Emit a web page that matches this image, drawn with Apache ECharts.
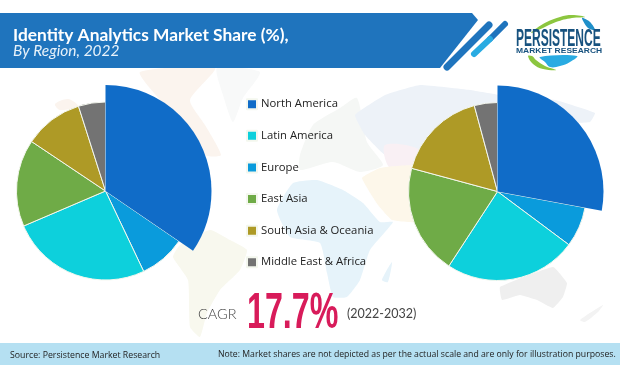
<!DOCTYPE html>
<html><head><meta charset="utf-8">
<style>html,body{margin:0;padding:0;background:#fff}#c{width:620px;height:365px}</style>
<script src="https://cdn.jsdelivr.net/npm/echarts@6/dist/echarts.min.js"></script>
</head><body><div id="c"></div>
<script>
const sliceOrder = ['North America','Europe','Latin America','East Asia','South Asia & Oceania','Middle East & Africa'];
const legendOrder = ['North America','Latin America','Europe','East Asia','South Asia & Oceania','Middle East & Africa'];
const sliceColors = ['#106cc8','#0a9bdc','#0dd0dc','#6fab47','#ae9a26','#737373'];
const values2022 = [34.5,8.4,25.6,15.8,10.7,4.9];
const values2032 = [27.9,7.3,24.0,20.0,16.6,4.2];

function poly(points,fill,smooth){
  return {type:'polygon',z:0,silent:true,shape:{points,smooth:smooth||0},style:{fill}};
}
function txt(x,y,text,font,fill,extra){
  return Object.assign({type:'text',z:5,silent:true,x,y,style:{text,font,fill,textVerticalAlign:'middle'}},extra||{});
}
const mapShapes = [
  poly([[140,72],[215,68],[190,100],[205,125],[221,155],[205,155],[160,100]],'#fbf4ee',0.2),
  poly([[55,104],[68,99],[78,106],[60,110]],'#fbf4ee',0.3),
  poly([[217,68],[260,72],[243,98],[233,122],[223,95]],'#f8f9f9',0.2),
  poly([[300,155],[313,125],[340,108],[357,98],[367,142],[383,165],[360,172],[333,162],[300,170]],'#f5f7f5',0.2),
  poly([[355,115],[385,95],[420,85],[470,90],[500,95],[555,100],[595,113],[590,122],[560,125],[540,170],[450,180],[385,155],[365,135]],'#edf2f8',0.1),
  poly([[385,145],[420,150],[420,172],[390,168]],'#f9f0f4',0.3),
  poly([[362,178],[380,168],[415,166],[425,222],[392,220],[378,205]],'#fdf7ea',0.1),
  poly([[277,210],[293,183],[317,180],[343,190],[363,203],[380,222],[393,222],[370,250],[360,280],[347,297],[333,297],[327,273],[320,243],[290,237]],'#e6f3fa',0.15),
  poly([[382,280],[392,262],[388,282]],'#e6f3fa',0.2),
  poly([[180,245],[210,230],[230,240],[247,250],[240,270],[220,290],[207,313],[200,337],[190,327],[188,280],[173,257]],'#f8f8ee',0.15),
  poly([[500,287],[553,267],[567,283],[563,297],[553,308],[537,300],[520,295],[502,300]],'#efefef',0.1),
  poly([[580,320],[603,305],[598,312],[585,322]],'#f3f3f3',0.2)
];
const banner = [
  {type:'polygon',z:3,silent:true,shape:{points:[[0,13],[472,13],[478,20],[440,68],[0,68]]},style:{fill:'#1f74bd'}},
  {type:'line',z:3,silent:true,shape:{x1:489,y1:25,x2:447,y2:67},style:{stroke:'#1f74bd',lineWidth:7,lineCap:'round'}},
  {type:'line',z:3,silent:true,shape:{x1:505,y1:24,x2:490,y2:39},style:{stroke:'#1f74bd',lineWidth:6,lineCap:'round'}},
  {type:'line',z:3,silent:true,shape:{x1:490,y1:39,x2:474,y2:54},style:{stroke:'#29abe2',lineWidth:6,lineCap:'round'}},
  txt(13,36,'Identity Analytics Market Share (%),','bold 17px "Lato"','#ffffff',{scaleX:1.02}),
  txt(13,51,'By Region, 2022','italic 15.5px "Lato"','#e8f2fa')
];
const logo = [
  poly([[531,33],[543,24],[560,17],[572,15],[585,17],[572,18],[556,22],[543,28]],'#8cc63f',0.4),
  poly([[582,18],[590,22],[595,30],[588,28]],'#1f8fc9',0.3),
  poly([[528,56],[533,64],[543,69],[556,70],[545,66],[536,60],[532,56]],'#8cc63f',0.4),
  poly([[540,57],[577,56],[570,62],[560,66],[550,67],[545,62]],'#29abe2',0.4),
  txt(516,39,'PERSISTENCE','bold 24px "Liberation Sans"','#17527f',{scaleX:0.5}),
  txt(516,51,'MARKET RESEARCH','bold 7.5px "Liberation Sans"','#17527f',{scaleX:1.13})
];
const cagr = [
  txt(198,314,'CAGR','300 14.5px "Lato"','#444444'),
  txt(247,314,'17.7%','bold 50px "Liberation Sans"','#d81b5a',{scaleX:0.645}),
  txt(347,314,'(2022-2032)','400 12.5px "Lato"','#444444')
];
const footer = [
  {type:'rect',z:3,silent:true,shape:{x:0,y:343,width:620,height:22},style:{fill:'#b5e0f2'}},
  txt(10,355,'Source: Persistence Market Research','9.5px "Open Sans"','#222222',{scaleX:0.92}),
  txt(218,354,'Note: Market shares are not depicted as per the actual scale and are only for illustration purposes.','9.5px "Open Sans"','#222222',{scaleX:0.915})
];

function basePie(cx,cy,values){
  return {type:'pie',center:[cx,cy],radius:[0,89],startAngle:90,clockwise:true,silent:true,
    label:{show:false},labelLine:{show:false},emphasis:{disabled:true},animation:false,
    itemStyle:{borderColor:'#f4f7ee',borderWidth:1},
    data:sliceOrder.map((n,i)=>({name:n,value:values[i],itemStyle:{color:sliceColors[i]}}))};
}
function leadPie(cx,cy,values){
  return {type:'pie',center:[cx,cy],radius:[0,106],startAngle:90,clockwise:true,silent:true,
    label:{show:false},labelLine:{show:false},emphasis:{disabled:true},animation:false,
    data:sliceOrder.map((n,i)=>({name:n,value:values[i],
      itemStyle:i===0?{color:sliceColors[0]}:{color:'rgba(0,0,0,0)'}}))};
}
const chart = echarts.init(document.getElementById('c'),null,{renderer:'canvas'});
chart.setOption({
  backgroundColor:'#ffffff',animation:false,
  color:sliceColors,
  legend:{orient:'vertical',left:246,top:97,padding:0,itemWidth:10,itemHeight:10,itemGap:17.1,selectedMode:false,
    icon:'rect',data:legendOrder,textStyle:{fontFamily:'Open Sans',fontSize:11.3,color:'#222222',lineHeight:14.5,padding:[0,0,0,-1]}},
  series:[basePie(105.5,191,values2022),leadPie(105.5,191,values2022),
          basePie(497.5,191.5,values2032),leadPie(497.5,191.5,values2032)],
  graphic:{elements:[...mapShapes,...banner,...logo,...cagr,...footer]}
});
</script></body></html>
